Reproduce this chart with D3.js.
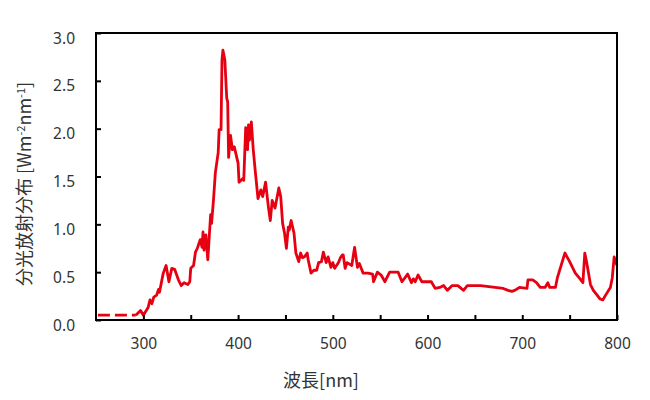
<!DOCTYPE html>
<html><head><meta charset="utf-8">
<script src="https://cdn.jsdelivr.net/npm/d3@7"></script>
<style>body{margin:0;background:#fff}svg{display:block}</style>
</head><body><svg id="c" width="650" height="400"></svg>
<script>
// Data
const xTicks = [300, 400, 500, 600, 700, 800];
const yTicks = [0, 0.5, 1.0, 1.5, 2.0, 2.5, 3.0];
const gapWavelength = [252, 292];
const gapIrradiance = [0.05, 0.05];
const wavelength = [292,297,300,305,307,309,311,314,316,317,321,324,327,330,333,337,340,343,347,349,350,353,355,357,360,362,363,364,366,368,369,371,372,374,376,379,380,382,383,384,386,388,389,390,392,394,396,400,401,405,406,408,410,411,412,414,416,418,421,424,426,429,432,434,436,439,443,445,447,449,451,453,454,456,459,461,464,466,468,470,473,474,477,480,483,485,488,490,493,495,498,500,502,506,508,510,511,513,515,520,523,526,528,532,537,542,543,547,551,555,560,569,573,579,583,585,587,590,594,604,608,613,617,621,626,632,638,642,656,680,685,689,692,697,705,706,711,715,719,724,727,729,735,737,741,745,750,756,761,764,766,768,772,775,779,782,785,788,793,795,797,800];
const irradiance = [0.05,0.10,0.05,0.13,0.21,0.17,0.24,0.26,0.32,0.29,0.49,0.57,0.40,0.54,0.53,0.42,0.36,0.39,0.37,0.40,0.54,0.57,0.71,0.75,0.84,0.76,0.92,0.73,0.89,0.63,0.78,1.10,1.01,1.25,1.54,1.75,1.99,1.99,2.72,2.82,2.72,2.32,2.28,1.70,1.93,1.78,1.81,1.64,1.44,1.48,1.46,2.01,1.78,2.04,1.88,2.07,1.78,1.57,1.27,1.36,1.29,1.44,1.18,1.04,1.25,1.17,1.38,1.29,1.01,0.91,0.75,0.97,0.94,1.04,0.91,0.70,0.61,0.70,0.65,0.66,0.70,0.63,0.49,0.52,0.52,0.60,0.61,0.71,0.60,0.66,0.55,0.60,0.54,0.60,0.65,0.68,0.68,0.54,0.60,0.57,0.76,0.55,0.59,0.49,0.49,0.48,0.40,0.50,0.47,0.40,0.50,0.50,0.40,0.48,0.39,0.43,0.40,0.47,0.40,0.40,0.33,0.34,0.36,0.31,0.36,0.36,0.31,0.36,0.36,0.33,0.31,0.30,0.31,0.34,0.33,0.42,0.42,0.39,0.34,0.34,0.39,0.34,0.34,0.44,0.57,0.70,0.61,0.49,0.43,0.39,0.70,0.60,0.37,0.31,0.26,0.22,0.21,0.26,0.34,0.44,0.66,0.57];

const svg = d3.select("#c");
const L = 96, R = 617, T = 33, B = 320;
const x = d3.scaleLinear().domain([250, 800]).range([L, R]);
const y = d3.scaleLinear().domain([0, 3]).range([B, T]);
const red = "#e60012";

// curve
const line = d3.line().x(d => x(d[0])).y(d => y(d[1]));
svg.append("path").datum(gapWavelength.map((w, i) => [w, gapIrradiance[i]]))
  .attr("d", line).attr("fill", "none").attr("stroke", red)
  .attr("stroke-width", 2.8).attr("stroke-dasharray", "12,5");
svg.append("path").datum(wavelength.map((w, i) => [w, irradiance[i]]))
  .attr("d", line).attr("fill", "none").attr("stroke", red)
  .attr("stroke-width", 2.8).attr("stroke-linejoin", "round");

// frame
svg.append("rect").attr("x", L).attr("y", T).attr("width", R - L).attr("height", B - T)
  .attr("fill", "none").attr("stroke", "#000").attr("stroke-width", 2);

// axes
const font = "'Noto Sans', 'Open Sans', sans-serif";
const xAxis = svg.append("g").attr("transform", `translate(0,${B})`)
  .call(d3.axisBottom(x).tickValues(d3.range(300, 801, 50)).tickSizeInner(-5).tickSizeOuter(0)
    .tickFormat(d => xTicks.includes(d) ? d : ""));
xAxis.select(".domain").remove();
xAxis.selectAll(".tick line").attr("stroke", "#000").attr("stroke-width", 2);
xAxis.selectAll(".tick text").attr("y", 18).attr("dy", "0.71em")
  .attr("font-family", font).attr("font-size", 15.5).attr("fill", "#333");

const yAxis = svg.append("g").attr("transform", `translate(${L},0)`)
  .call(d3.axisLeft(y).tickValues(yTicks).tickSizeInner(-5).tickSizeOuter(0).tickFormat(d3.format(".1f")));
yAxis.select(".domain").remove();
yAxis.selectAll(".tick text").attr("x", -21).attr("dy", "0.65em")
  .attr("font-family", font).attr("font-size", 15.5).attr("fill", "#333");
yAxis.selectAll(".tick line").attr("stroke", "#000").attr("stroke-width", 2);

// titles
const cjk = "'Noto Sans CJK JP', 'Noto Sans', sans-serif";
svg.append("text").attr("x", 321).attr("y", 387).attr("text-anchor", "middle")
  .attr("font-family", cjk).attr("font-size", 18).attr("fill", "#333").text("波長[nm]");

const yl = svg.append("text").attr("transform", "translate(31,184) rotate(-90)")
  .attr("text-anchor", "middle").attr("font-family", cjk).attr("font-size", 18).attr("fill", "#333");
yl.append("tspan").text("分光放射分布 [Wm");
yl.append("tspan").attr("dy", -6).attr("font-size", 11).text("-2");
yl.append("tspan").attr("dy", 6).text("nm");
yl.append("tspan").attr("dy", -6).attr("font-size", 11).text("-1");
yl.append("tspan").attr("dy", 6).text("]");
</script></body></html>
